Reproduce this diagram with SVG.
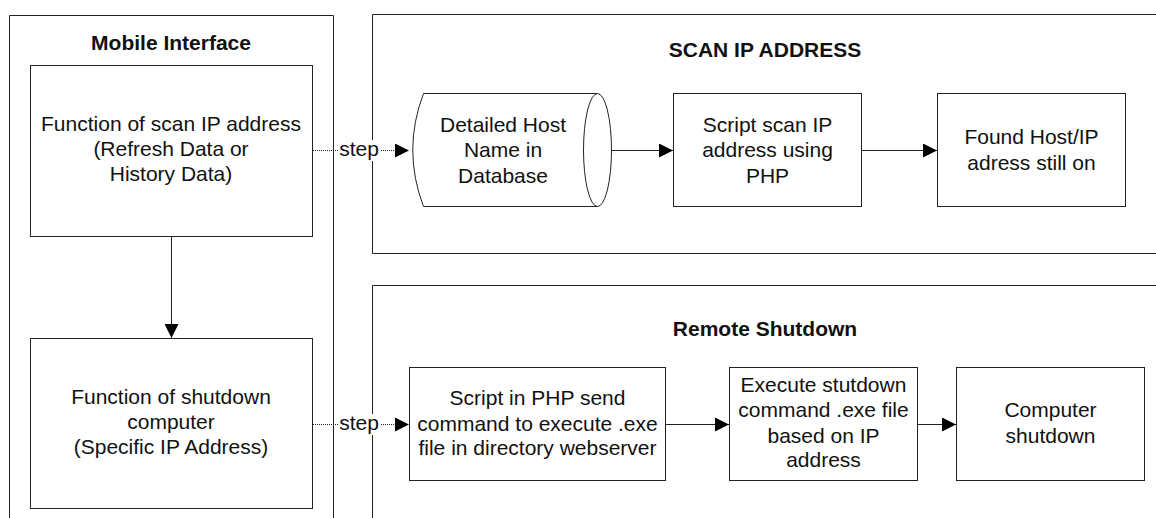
<svg xmlns="http://www.w3.org/2000/svg" width="1156" height="518" viewBox="0 0 1156 518">
<style>
  .box{fill:#fff;stroke:#222;stroke-width:1}
  .grp{fill:none;stroke:#222;stroke-width:1}
  .t{font-family:"Liberation Sans",Arial,sans-serif;font-size:21px;fill:#111;text-anchor:middle}
  .title{font-family:"Liberation Sans",Arial,sans-serif;font-size:21px;font-weight:bold;fill:#111;text-anchor:middle}
  .line{fill:none;stroke:#222;stroke-width:1}
  .dot{fill:none;stroke:#222;stroke-width:1;stroke-dasharray:1 1}
  .lbl{font-family:"Liberation Sans",Arial,sans-serif;font-size:21px;fill:#111;text-anchor:middle}
</style>
<defs>
  <marker id="arr" viewBox="0 0 14 14" refX="14" refY="7" markerWidth="14" markerHeight="14" markerUnits="userSpaceOnUse" orient="auto">
    <path d="M0,0 L14,7 L0,14 Z" fill="#000"/>
  </marker>
</defs>
<rect width="1156" height="518" fill="#fff"/>

<g id="mobile-interface">
  <path class="grp" d="M9.5,530 L9.5,15.5 L333.5,15.5 L333.5,530"/>
  <text class="title" x="171" y="50">Mobile Interface</text>
</g>
<g id="scan-ip-group">
  <path class="grp" d="M1160,14.5 L372.5,14.5 L372.5,253.5 L1160,253.5"/>
  <text class="title" x="765" y="57">SCAN IP ADDRESS</text>
</g>
<g id="remote-shutdown-group">
  <path class="grp" d="M1160,285.5 L372.5,285.5 L372.5,530"/>
  <text class="title" x="765" y="336">Remote Shutdown</text>
</g>

<g id="fn-scan">
  <rect class="box" x="30.5" y="65.5" width="282" height="171"/>
  <text class="t" x="171" y="131">Function of scan IP address</text>
  <text class="t" x="171" y="156">(Refresh Data or</text>
  <text class="t" x="171" y="181">History Data)</text>
</g>
<g id="fn-shutdown">
  <rect class="box" x="30.5" y="338.5" width="282" height="170"/>
  <text class="t" x="171" y="404">Function of shutdown</text>
  <text class="t" x="171" y="429">computer</text>
  <text class="t" x="171" y="454">(Specific IP Address)</text>
</g>
<g id="db-host">
  <path class="box" d="M423.5,93.5 L597.5,93.5 A14,56.5 0 0 1 597.5,206.5 L423.5,206.5 Q402,150 423.5,93.5 Z"/>
  <path class="line" d="M597.5,93.5 A14,56.5 0 0 0 597.5,206.5"/>
  <text class="t" x="503" y="132">Detailed Host</text>
  <text class="t" x="503" y="157">Name in</text>
  <text class="t" x="503" y="183">Database</text>
</g>
<g id="script-scan">
  <rect class="box" x="673.5" y="93.5" width="188" height="113"/>
  <text class="t" x="767.5" y="132">Script scan IP</text>
  <text class="t" x="767.5" y="157">address using</text>
  <text class="t" x="767.5" y="183">PHP</text>
</g>
<g id="found-host">
  <rect class="box" x="937.5" y="93.5" width="188" height="113"/>
  <text class="t" x="1031.5" y="144">Found Host/IP</text>
  <text class="t" x="1031.5" y="170">adress still on</text>
</g>
<g id="script-php">
  <rect class="box" x="409.5" y="367.5" width="256" height="113"/>
  <text class="t" x="537.5" y="405">Script in PHP send</text>
  <text class="t" x="537.5" y="431">command to execute .exe</text>
  <text class="t" x="537.5" y="455">file in directory webserver</text>
</g>
<g id="execute-shutdown">
  <rect class="box" x="729.5" y="367.5" width="188" height="113"/>
  <text class="t" x="823.5" y="392">Execute stutdown</text>
  <text class="t" x="823.5" y="417">command .exe file</text>
  <text class="t" x="823.5" y="443">based on IP</text>
  <text class="t" x="823.5" y="467">address</text>
</g>
<g id="computer-shutdown">
  <rect class="box" x="956.5" y="367.5" width="188" height="113"/>
  <text class="t" x="1050.5" y="417">Computer</text>
  <text class="t" x="1050.5" y="443">shutdown</text>
</g>

<g id="connectors">
  <path class="line" d="M171.5,236.5 L171.5,338" marker-end="url(#arr)"/>
  <path class="line" d="M612,150.5 L673,150.5" marker-end="url(#arr)"/>
  <path class="line" d="M862,150.5 L937,150.5" marker-end="url(#arr)"/>
  <path class="line" d="M666,424.5 L729,424.5" marker-end="url(#arr)"/>
  <path class="line" d="M918,424.5 L956,424.5" marker-end="url(#arr)"/>
  <path class="dot" d="M313,150.5 L409,150.5" marker-end="url(#arr)"/>
  <path class="dot" d="M313,424.5 L409,424.5" marker-end="url(#arr)"/>
  <rect x="338" y="140" width="42" height="21" fill="#fff"/>
  <text class="lbl" x="359" y="156">step</text>
  <rect x="338" y="414" width="42" height="21" fill="#fff"/>
  <text class="lbl" x="359" y="430">step</text>
</g>
</svg>
